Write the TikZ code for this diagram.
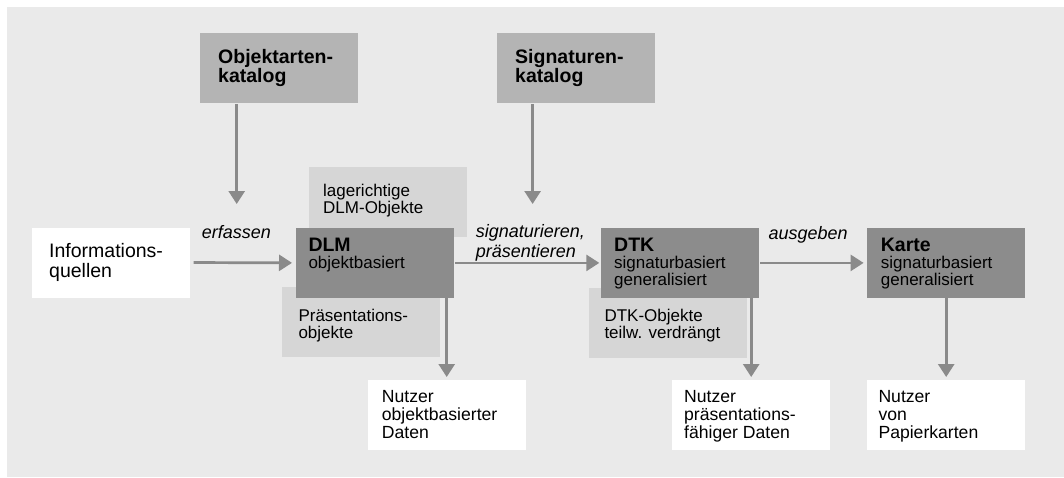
\documentclass[tikz,border=0pt]{standalone}
\usepackage{fontspec}
\setmainfont{Liberation Sans}
\usetikzlibrary{arrows.meta}

\definecolor{bgGray}{HTML}{EAEAEA}
\definecolor{catGray}{HTML}{B4B4B4}
\definecolor{mainGray}{HTML}{8C8C8C}
\definecolor{noteGray}{HTML}{D6D6D6}
\definecolor{arrowGray}{HTML}{8A8A8A}

% type sizes
\newcommand\ttlfnt{\fontsize{19.5}{19}\selectfont\bfseries}
\newcommand\bodyfnt{\fontsize{17}{17}\selectfont\mdseries}
\newcommand\usrfnt{\fontsize{17.6}{18}\selectfont}
\newcommand\srcfnt{\fontsize{19.5}{19.5}\selectfont}
\newcommand\lblfnt{\fontsize{18}{19.5}\selectfont\itshape}
\newcommand\lines[1]{\parbox[t]{150pt}{\raggedright #1}}

\tikzset{
  box/.style={anchor=north west, minimum width=158pt, minimum height=70pt,
    inner sep=0pt, draw=none},
  catbox/.style={box, fill=catGray},
  mainbox/.style={box, fill=mainGray},
  notebox/.style={box, fill=noteGray},
  userbox/.style={box, fill=white},
  txt/.style={anchor=base west, inner sep=0pt},
  flow/.style={draw=arrowGray, line width=2.7pt,
    -{Triangle[length=13pt,width=16pt]}},
}

\begin{document}
\begin{tikzpicture}[x=1pt,y=-1pt]
  \useasboundingbox (0,0) rectangle (1064,477);
  \fill[bgGray] (7,7) rectangle (1064,477);

  % catalogues
  \node[catbox] (okat) at (200,32.3) {};
  \node[catbox] (skat) at (497,32.3) {};
  \node[txt] (okatT) at (218,63.3) {\lines{\ttlfnt Objektarten-\\katalog}};
  \node[txt] (skatT) at (515,63.3) {\lines{\ttlfnt Signaturen-\\katalog}};

  % side notes (behind the models)
  \node[notebox] (lage) at (309,166.7) {};
  \node[notebox] (praes) at (282,287) {};
  \node[notebox] (dtkobj) at (589,287.3) {};
  \node[txt] (lageT) at (323,196) {\lines{\bodyfnt lagerichtige\\DLM-Objekte}};
  \node[txt] (praesT) at (298.3,321.7) {\lines{\bodyfnt Präsentations-\\objekte}};
  \node[txt] (dtkobjT) at (604.3,321.7) {\lines{\bodyfnt DTK-Objekte\\teilw. verdrängt}};

  % source and models
  \node[userbox] (src) at (32,227.3) {};
  \node[txt] (srcT) at (49,257.7) {\lines{\srcfnt Informations-\\quellen}};
  \node[mainbox] (dlm) at (296,227.7) {};
  \node[mainbox] (dtk) at (601,227.7) {};
  \node[mainbox] (karte) at (867,227.7) {};
  \node[txt] (dlmT) at (308.3,251.7) {\lines{\ttlfnt DLM\\\bodyfnt objektbasiert}};
  \node[txt] (dtkT) at (614,251) {\lines{\ttlfnt DTK\\\bodyfnt signaturbasiert\\generalisiert}};
  \node[txt] (karteT) at (880.7,251) {\lines{\ttlfnt Karte\\\bodyfnt signaturbasiert\\generalisiert}};

  % users
  \node[userbox] (usr1) at (367.5,380) {};
  \node[userbox] (usr2) at (672,380) {};
  \node[userbox] (usr3) at (867,380) {};
  \node[txt] (usr1T) at (381.7,402.3) {\lines{\usrfnt Nutzer\\objektbasierter\\Daten}};
  \node[txt] (usr2T) at (684,402.3) {\lines{\usrfnt Nutzer\\präsentations-\\fähiger Daten}};
  \node[txt] (usr3T) at (878.3,402.3) {\lines{\usrfnt Nutzer\\von\\Papierkarten}};

  % arrow labels
  \node[txt] (lblErf) at (201.7,238.3) {\lblfnt erfassen};
  \node[txt] (lblSig) at (475.7,237.5) {\lines{\lblfnt signaturieren,\\präsentieren}};
  \node[txt] (lblAus) at (768.3,239.3) {\lblfnt ausgeben};

  % catalogue inputs
  \coordinate (okatIn) at (236.7,204);
  \coordinate (skatIn) at (532.6,204);
  \draw[flow, shorten <=1.5pt] (okat.south -| okatIn) -- (okatIn);
  \draw[flow, shorten <=1.5pt] (skat.south -| skatIn) -- (skatIn);

  % main flow
  \draw[flow, shorten <=3.3pt, shorten >=4pt] (src.east) -- (dlm.west);
  \draw[flow, shorten <=0.7pt, shorten >=1.7pt] (dlm.east) -- (dtk.west);
  \draw[flow, shorten <=0.7pt, shorten >=3.4pt] (dtk.east) -- (karte.west);

  % outputs to users
  \draw[flow, shorten >=3pt] (dlm.south -| usr1.north) -- (usr1.north);
  \draw[flow, shorten >=3pt] (dtk.south -| usr2.north) -- (usr2.north);
  \draw[flow, shorten >=3pt] (karte.south) -- (usr3.north);
\end{tikzpicture}
\end{document}
